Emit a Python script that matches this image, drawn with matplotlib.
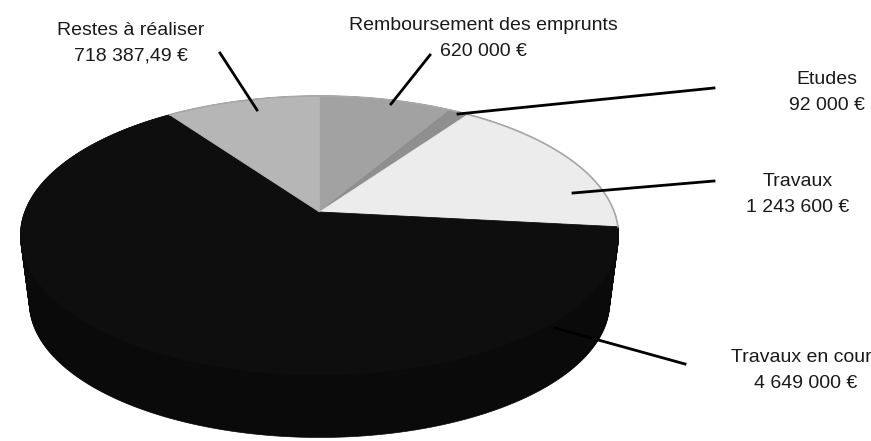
import matplotlib
matplotlib.use("Agg")
import matplotlib.pyplot as plt
import numpy as np

plt.rcParams["font.family"] = ["Liberation Sans", "DejaVu Sans"]

# clockwise from 12 o'clock
categories = ["Remboursement des emprunts", "Etudes", "Travaux", "Travaux en cours", "Restes à réaliser"]
values = [620000, 92000, 1243600, 4649000, 718387.49]
value_labels = ["620 000 €", "92 000 €", "1 243 600 €", "4 649 000 €", "718 387,49 €"]
colors = ["#a2a2a2", "#8f8f8f", "#ececec", "#0e0e0e", "#b6b6b6"]
side_color = "#0a0a0a"

# label centre in pixels, one entry per category
label_x = [483, 827, 798, 806, 131]
label_y = [38.5, 92.5, 194.5, 370.5, 43]

# leader lines, wedge end to label end
leaders = [
    ((391, 104), (430, 55)),
    ((458, 114), (714, 88)),
    ((573, 193), (714, 181)),
    ((555, 328), (685, 364)),
    ((257, 110), (220, 53)),
]

apex_x, apex_y = 319.5, 212
A = 294.8
B = 135.5
K = 0.168


def project(theta):
    # perspective view of the unit disc, theta clockwise from the top
    w = 1 + K * np.cos(theta)
    return apex_x + A * np.sin(theta) / w, apex_y - B * np.cos(theta) / w


fig = plt.figure(figsize=(8.71, 4.41), dpi=100)
ax = fig.add_axes([0, 0, 1, 1])
ax.set_xlim(0, 871)
ax.set_ylim(441, 0)
ax.axis("off")

# side of the disc: stack of outlines from the bottom rim up to the top rim
t = np.linspace(0, 2 * np.pi, 400)
rim_x, rim_y = project(t)
mid_y = 235.5
for s in np.linspace(1, 0, 70):
    scale = 1 - 0.03 * s
    x = apex_x + (rim_x - apex_x) * scale
    y = mid_y + 67.5 * s + (rim_y - mid_y) * (1 - 0.035 * s)
    ax.fill(x, y, color=side_color, lw=0.5, zorder=1)

angles = np.cumsum([0] + values) / sum(values) * 2 * np.pi
for i in range(len(values)):
    arc = np.linspace(angles[i], angles[i + 1], 200)
    x, y = project(arc)
    ax.fill(np.r_[apex_x, x], np.r_[apex_y, y], color=colors[i], lw=0.6, zorder=2)
    if i != 3:
        ax.plot(x, y, color="#a8a8a8", lw=1.2, zorder=3)

for start, end in leaders:
    ax.plot([start[0], end[0]], [start[1], end[1]], color="black", lw=2, zorder=4)

for i in range(len(categories)):
    ax.text(label_x[i], label_y[i], categories[i] + "\n" + value_labels[i], ha="center", va="center",
            fontsize=14, linespacing=1.65, color="#1a1a1a", zorder=5)

fig.savefig("out.png", dpi=100)
